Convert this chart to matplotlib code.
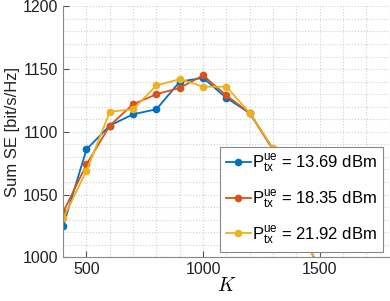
import matplotlib
matplotlib.use("Agg")
import matplotlib.pyplot as plt
from matplotlib.ticker import MultipleLocator

plt.rcParams['font.family'] = ['Liberation Sans', 'DejaVu Sans']
plt.rcParams['mathtext.fontset'] = 'custom'
plt.rcParams['mathtext.rm'] = 'Liberation Sans'

# number of antennas K
K = [400, 500, 600, 700, 800, 900, 1000, 1100, 1200, 1300, 1400, 1500]

# sum SE for each UE transmit power
se_13 = [1025, 1086, 1105, 1114, 1118, 1140, 1143, 1127, 1115, 1086, 1030, 990]
se_18 = [1036, 1074, 1105, 1122, 1130, 1135, 1145, 1129, 1115, 1086, 1030, 990]
se_22 = [1031, 1069, 1116, 1118, 1137, 1142, 1136, 1136, 1115, 1087, 1030, 990]

labels = ['13.69', '18.35', '21.92']
colors = ['#0072BD', '#D95319', '#EDB120']

fig = plt.figure(figsize=(3.9, 3.01), dpi=100)
ax = fig.add_axes([0.162, 0.145, 0.837, 0.834])

for y, lab, c in zip([se_13, se_18, se_22], labels, colors):
    ax.plot(K, y, color=c, lw=1.3, marker='o', ms=4.5,
            label=r'$\mathregular{P^{ue}_{tx}}$ = ' + lab + ' dBm')

ax.set_xlim(400, 1800)
ax.set_ylim(1000, 1200)
ax.xaxis.set_major_locator(MultipleLocator(500))
ax.xaxis.set_minor_locator(MultipleLocator(100))
ax.yaxis.set_major_locator(MultipleLocator(50))
ax.yaxis.set_minor_locator(MultipleLocator(10))

# dotted major + minor grid
ax.grid(True, which='both', ls=':', color='#d0d0d0', lw=0.8)
ax.set_axisbelow(True)

for s in ['top', 'right']:
    ax.spines[s].set_visible(False)
for s in ['left', 'bottom']:
    ax.spines[s].set_color('#888888')
    ax.spines[s].set_linewidth(0.8)
ax.tick_params(which='major', direction='in', length=4, color='#555555',
               labelsize=11.5, labelcolor='#222222')
ax.tick_params(which='minor', length=0)

ax.set_ylabel('Sum SE [bit/s/Hz]', fontsize=12, color='#222222', labelpad=2)
ax.set_xlabel('$K$', fontsize=14, math_fontfamily='cm', labelpad=0)

leg = ax.legend(loc='lower right', bbox_to_anchor=(0.98, 0.02), borderaxespad=0,
                fontsize=12, fancybox=False, framealpha=1, edgecolor='#888888',
                handlelength=1.5, handletextpad=0.1, borderpad=0.35,
                labelspacing=0.8)
leg.get_frame().set_linewidth(0.8)

fig.savefig('out.png', dpi=100)
